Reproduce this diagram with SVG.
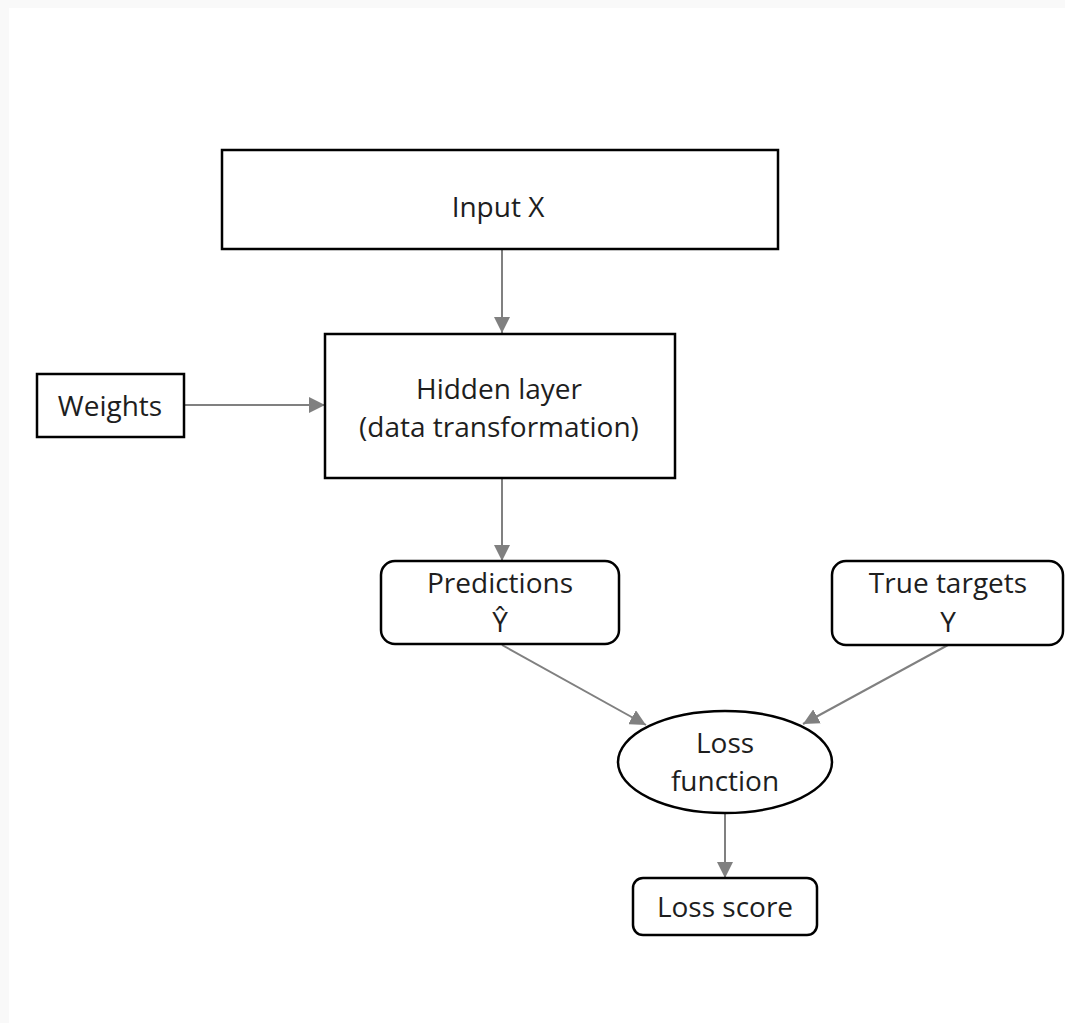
<svg xmlns="http://www.w3.org/2000/svg" width="1065" height="1023" viewBox="0 0 1065 1023">
<style>
.box{fill:#fff;stroke:#000;stroke-width:2.5}
.t{font-family:"Open Sans","Liberation Sans",sans-serif;font-size:28px;fill:#1e1e1e;text-anchor:middle}
.c{stroke:#808080;stroke-width:2;fill:none;marker-end:url(#ah)}
</style>
<defs>
<marker id="ah" viewBox="0 0 16 16" refX="16" refY="8" markerWidth="16" markerHeight="16" markerUnits="userSpaceOnUse" orient="auto">
<path d="M0,0 L16,8 L0,16 Z" fill="#808080"/>
</marker>
</defs>
<rect x="0" y="0" width="1065" height="1023" fill="#fff"/>
<rect x="0" y="0" width="1065" height="8" fill="#f9f9f9"/>
<rect x="0" y="0" width="9" height="1023" fill="#f9f9f9"/>
<g id="connectors">
<line class="c" x1="502" y1="250" x2="502" y2="333"/>
<line class="c" x1="185" y1="405" x2="325" y2="405"/>
<line class="c" x1="502" y1="479" x2="502" y2="561"/>
<line class="c" x1="502" y1="645" x2="646" y2="725"/>
<line class="c" x1="948" y1="645" x2="803" y2="724"/>
<line class="c" x1="725" y1="813" x2="725" y2="878"/>
</g>
<g id="input">
<rect class="box" x="222" y="150" width="556" height="99"/>
<text class="t" x="498" y="217">Input X</text>
</g>
<g id="hidden">
<rect class="box" x="325" y="334" width="350" height="144"/>
<text class="t" x="499" y="399">Hidden layer</text>
<text class="t" x="499" y="437">(data transformation)</text>
</g>
<g id="weights">
<rect class="box" x="37" y="374" width="147" height="63"/>
<text class="t" x="110" y="416">Weights</text>
</g>
<g id="predictions">
<rect class="box" x="381" y="561" width="238" height="83" rx="14"/>
<text class="t" x="500" y="593">Predictions</text>
<text class="t" x="500" y="632">Ŷ</text>
</g>
<g id="targets">
<rect class="box" x="832" y="561" width="231" height="84" rx="14"/>
<text class="t" x="948" y="593">True targets</text>
<text class="t" x="948" y="632">Y</text>
</g>
<g id="loss">
<ellipse class="box" cx="725" cy="762" rx="107" ry="51"/>
<text class="t" x="725" y="753">Loss</text>
<text class="t" x="725" y="791">function</text>
</g>
<g id="score">
<rect class="box" x="633" y="878" width="184" height="57" rx="10"/>
<text class="t" x="725" y="917">Loss score</text>
</g>
</svg>
